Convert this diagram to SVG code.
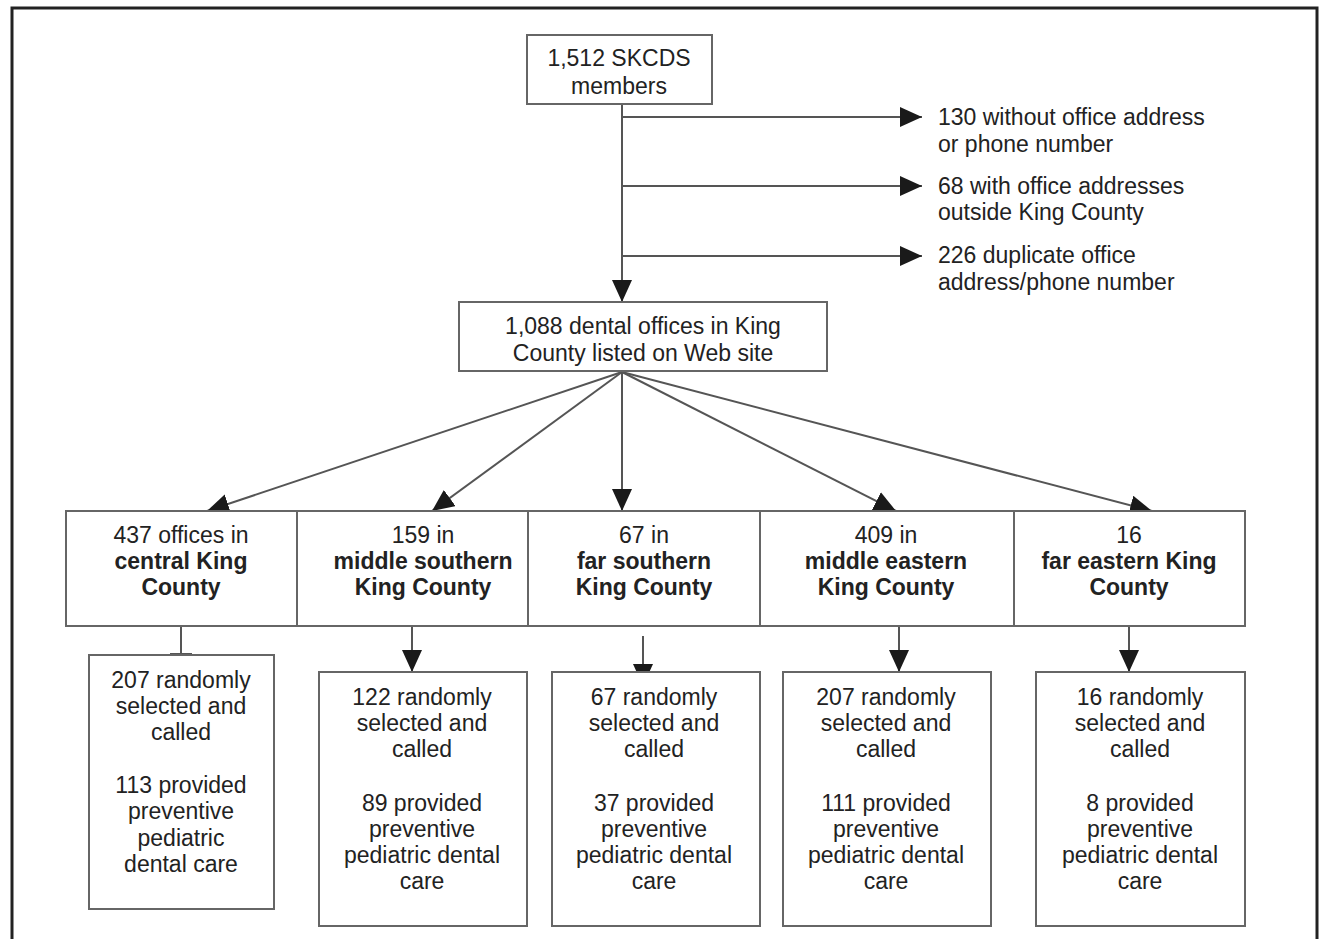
<svg xmlns="http://www.w3.org/2000/svg" width="1320" height="939" viewBox="0 0 1320 939">
<style>
.box{fill:#fff;stroke:#666;stroke-width:2}
.t{font-family:"Liberation Sans",Arial,sans-serif;font-size:23px;fill:#222;text-anchor:middle}
.tl{font-family:"Liberation Sans",Arial,sans-serif;font-size:23px;fill:#222;text-anchor:start}
.b{font-weight:bold}
.c{fill:none;stroke:#555;stroke-width:2}
</style>
<defs>
<marker id="ah" markerUnits="userSpaceOnUse" markerWidth="24" markerHeight="22" refX="22" refY="10" orient="auto">
<path d="M0,0 L22,10 L0,20 Z" fill="#1a1a1a"/>
</marker>
</defs>
<rect x="0" y="0" width="1320" height="939" fill="#fff"/>
<rect x="12" y="8" width="1305" height="940" fill="none" stroke="#222" stroke-width="3"/>

<g id="connectors">
<path class="c" d="M622,104 V302" marker-end="url(#ah)"/>
<path class="c" d="M622,117 H922" marker-end="url(#ah)"/>
<path class="c" d="M622,186 H922" marker-end="url(#ah)"/>
<path class="c" d="M622,256 H922" marker-end="url(#ah)"/>
<path class="c" d="M622,372 L207,511" marker-end="url(#ah)"/>
<path class="c" d="M622,372 L432,511" marker-end="url(#ah)"/>
<path class="c" d="M622,372 V511" marker-end="url(#ah)"/>
<path class="c" d="M622,372 L896,511" marker-end="url(#ah)"/>
<path class="c" d="M622,372 L1152,511" marker-end="url(#ah)"/>
<path class="c" d="M181,626 V654"/>
<path class="c" d="M170,654 H192"/>
<path class="c" d="M412,626 V672" marker-end="url(#ah)"/>
<path class="c" d="M643,636 V686" marker-end="url(#ah)"/>
<path class="c" d="M899,626 V672" marker-end="url(#ah)"/>
<path class="c" d="M1129,626 V672" marker-end="url(#ah)"/>
</g>

<g id="n-members">
<rect class="box" x="527" y="35" width="185" height="69"/>
<text class="t" x="619" y="66">1,512 SKCDS</text>
<text class="t" x="619" y="94">members</text>
</g>

<g id="n-excl1">
<text class="tl" x="938" y="125">130 without office address</text>
<text class="tl" x="938" y="152">or phone number</text>
</g>
<g id="n-excl2">
<text class="tl" x="938" y="194">68 with office addresses</text>
<text class="tl" x="938" y="220">outside King County</text>
</g>
<g id="n-excl3">
<text class="tl" x="938" y="263">226 duplicate office</text>
<text class="tl" x="938" y="290">address/phone number</text>
</g>

<g id="n-offices">
<rect class="box" x="459" y="302" width="368" height="69"/>
<text class="t" x="643" y="334">1,088 dental offices in King</text>
<text class="t" x="643" y="361">County listed on Web site</text>
</g>

<g id="n-r1">
<rect class="box" x="66" y="511" width="231" height="115"/>
<text class="t" x="181" y="543">437 offices in</text>
<text class="t b" x="181" y="569">central King</text>
<text class="t b" x="181" y="595">County</text>
</g>
<g id="n-r2">
<rect class="box" x="297" y="511" width="231" height="115"/>
<text class="t" x="423" y="543">159 in</text>
<text class="t b" x="423" y="569">middle southern</text>
<text class="t b" x="423" y="595">King County</text>
</g>
<g id="n-r3">
<rect class="box" x="528" y="511" width="232" height="115"/>
<text class="t" x="644" y="543">67 in</text>
<text class="t b" x="644" y="569">far southern</text>
<text class="t b" x="644" y="595">King County</text>
</g>
<g id="n-r4">
<rect class="box" x="760" y="511" width="254" height="115"/>
<text class="t" x="886" y="543">409 in</text>
<text class="t b" x="886" y="569">middle eastern</text>
<text class="t b" x="886" y="595">King County</text>
</g>
<g id="n-r5">
<rect class="box" x="1014" y="511" width="231" height="115"/>
<text class="t" x="1129" y="543">16</text>
<text class="t b" x="1129" y="569">far eastern King</text>
<text class="t b" x="1129" y="595">County</text>
</g>

<g id="n-s1">
<rect class="box" x="89" y="655" width="185" height="254"/>
<text class="t" x="181" y="688">207 randomly</text>
<text class="t" x="181" y="714">selected and</text>
<text class="t" x="181" y="740">called</text>
<text class="t" x="181" y="793">113 provided</text>
<text class="t" x="181" y="819">preventive</text>
<text class="t" x="181" y="846">pediatric</text>
<text class="t" x="181" y="872">dental care</text>
</g>
<g id="n-s2">
<rect class="box" x="319" y="672" width="208" height="254"/>
<text class="t" x="422" y="705">122 randomly</text>
<text class="t" x="422" y="731">selected and</text>
<text class="t" x="422" y="757">called</text>
<text class="t" x="422" y="811">89 provided</text>
<text class="t" x="422" y="837">preventive</text>
<text class="t" x="422" y="863">pediatric dental</text>
<text class="t" x="422" y="889">care</text>
</g>
<g id="n-s3">
<rect class="box" x="552" y="672" width="208" height="254"/>
<text class="t" x="654" y="705">67 randomly</text>
<text class="t" x="654" y="731">selected and</text>
<text class="t" x="654" y="757">called</text>
<text class="t" x="654" y="811">37 provided</text>
<text class="t" x="654" y="837">preventive</text>
<text class="t" x="654" y="863">pediatric dental</text>
<text class="t" x="654" y="889">care</text>
</g>
<g id="n-s4">
<rect class="box" x="783" y="672" width="208" height="254"/>
<text class="t" x="886" y="705">207 randomly</text>
<text class="t" x="886" y="731">selected and</text>
<text class="t" x="886" y="757">called</text>
<text class="t" x="886" y="811">111 provided</text>
<text class="t" x="886" y="837">preventive</text>
<text class="t" x="886" y="863">pediatric dental</text>
<text class="t" x="886" y="889">care</text>
</g>
<g id="n-s5">
<rect class="box" x="1036" y="672" width="209" height="254"/>
<text class="t" x="1140" y="705">16 randomly</text>
<text class="t" x="1140" y="731">selected and</text>
<text class="t" x="1140" y="757">called</text>
<text class="t" x="1140" y="811">8 provided</text>
<text class="t" x="1140" y="837">preventive</text>
<text class="t" x="1140" y="863">pediatric dental</text>
<text class="t" x="1140" y="889">care</text>
</g>
</svg>
